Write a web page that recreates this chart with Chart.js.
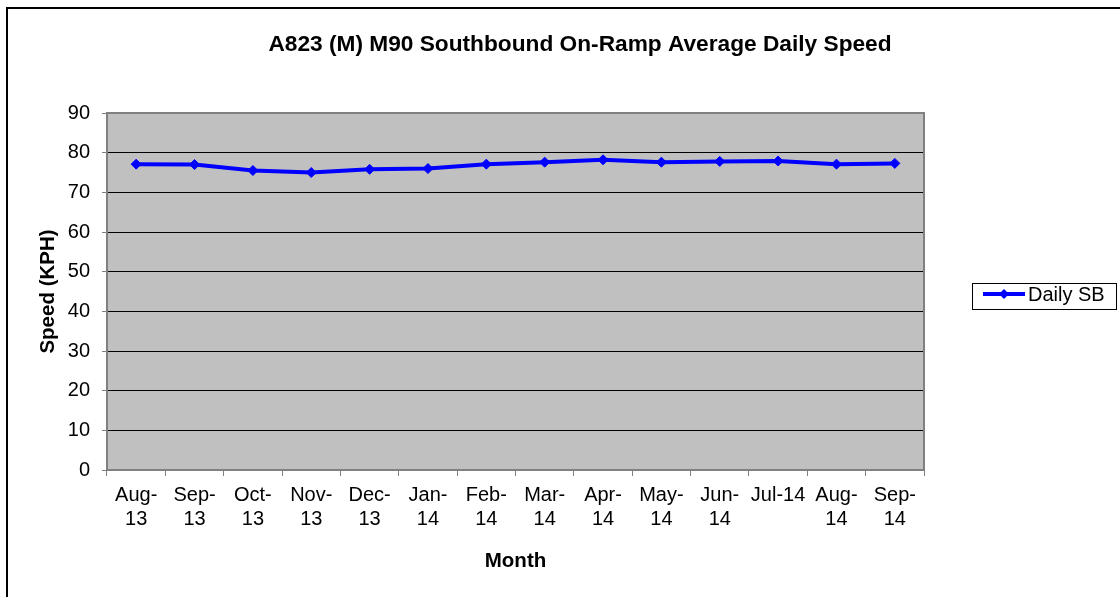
<!DOCTYPE html>
<html>
<head>
<meta charset="utf-8">
<script src="https://cdn.jsdelivr.net/npm/chart.js@4.4.1/dist/chart.umd.min.js"></script>
<style>
	html, body { margin: 0; padding: 0; background: #fff; }
	#wrap { width: 1120px; height: 597px; position: relative; }
</style>
</head>
<body>
<div id="wrap"><canvas id="speedChart" width="1120" height="597"></canvas></div>
<script>
// 데이터
const months = [
	['Aug-', '13'], ['Sep-', '13'], ['Oct-', '13'], ['Nov-', '13'], ['Dec-', '13'],
	['Jan-', '14'], ['Feb-', '14'], ['Mar-', '14'], ['Apr-', '14'], ['May-', '14'],
	['Jun-', '14'], 'Jul-14', ['Aug-', '14'], ['Sep-', '14']
];
const dailySB = [77.1, 77.0, 75.5, 75.0, 75.8, 76.0, 77.1, 77.6, 78.2, 77.6, 77.8, 77.9, 77.1, 77.3];
const yTicks = [0, 10, 20, 30, 40, 50, 60, 70, 80, 90];

const chartTitle = 'A823 (M) M90 Southbound On-Ramp Average Daily Speed';
const seriesName = 'Daily SB';

const FONT = "'Liberation Sans', Arial, sans-serif";

// 배경, 제목, 범례, 테두리 그리기
const decorPlugin = {
	id: 'decor',
	beforeDraw: function(chart) {
		const ctx = chart.ctx;
		const a = chart.chartArea;
		ctx.save();
		ctx.fillStyle = '#fff';
		ctx.fillRect(0, 0, chart.width, chart.height);
		ctx.fillStyle = '#C0C0C0';
		ctx.fillRect(a.left, a.top, a.right - a.left, a.bottom - a.top);
		ctx.restore();
	},
	afterDraw: function(chart) {
		const ctx = chart.ctx;
		const a = chart.chartArea;
		ctx.save();

		// 플롯 영역 테두리 (오른쪽, 위)
		ctx.strokeStyle = '#808080';
		ctx.lineWidth = 2;
		ctx.beginPath();
		ctx.moveTo(a.left, a.top);
		ctx.lineTo(a.right, a.top);
		ctx.lineTo(a.right, a.bottom);
		ctx.stroke();

		// 바깥 테두리
		ctx.strokeStyle = '#000';
		ctx.lineWidth = 2;
		ctx.beginPath();
		ctx.moveTo(7, chart.height);
		ctx.lineTo(7, 8);
		ctx.lineTo(chart.width, 8);
		ctx.stroke();

		// 제목
		ctx.fillStyle = '#000';
		ctx.font = 'bold 22.7px ' + FONT;
		ctx.textAlign = 'center';
		ctx.textBaseline = 'middle';
		ctx.fillText(chartTitle, 580, 45);

		// 범례
		ctx.strokeStyle = '#000';
		ctx.lineWidth = 1;
		ctx.strokeRect(972.5, 283.5, 144, 26);
		ctx.strokeStyle = '#0000FF';
		ctx.lineWidth = 4;
		ctx.beginPath();
		ctx.moveTo(983, 294);
		ctx.lineTo(1025, 294);
		ctx.stroke();
		ctx.fillStyle = '#0000FF';
		ctx.beginPath();
		ctx.moveTo(1004, 289);
		ctx.lineTo(1009, 294);
		ctx.lineTo(1004, 299);
		ctx.lineTo(999, 294);
		ctx.closePath();
		ctx.fill();
		ctx.fillStyle = '#000';
		ctx.font = '20px ' + FONT;
		ctx.textAlign = 'left';
		ctx.fillText(seriesName, 1028, 295);

		ctx.restore();
	}
};

document.addEventListener('DOMContentLoaded', function() {
	const ctx = document.getElementById('speedChart').getContext('2d');
	const chart = new Chart(ctx, {
		type: 'line',
		data: {
			labels: months,
			datasets: [
				{
					label: seriesName,
					data: dailySB,
					borderColor: '#0000FF',
					backgroundColor: '#0000FF',
					borderWidth: 4,
					pointStyle: 'rectRot',
					pointRadius: 5,
					pointBackgroundColor: '#0000FF',
					pointBorderColor: '#0000FF',
					pointBorderWidth: 1,
					tension: 0
				}
			]
		},
		options: {
			responsive: false,
			animation: false,
			layout: {
				padding: { top: 113, right: 196, left: 34, bottom: 19 }
			},
			plugins: {
				legend: { display: false },
				title: { display: false },
				tooltip: { enabled: false }
			},
			scales: {
				x: {
					offset: true,
					grid: {
						offset: true,
						drawOnChartArea: false,
						tickLength: 6,
						tickColor: '#808080',
						tickWidth: 1
					},
					border: { color: '#808080', width: 2 },
					ticks: {
						color: '#000',
						font: { family: FONT, size: 20, lineHeight: 1.2 },
						maxRotation: 0,
						autoSkip: false,
						padding: 7
					},
					title: {
						display: true,
						text: 'Month',
						color: '#000',
						font: { family: FONT, size: 20.5, weight: 'bold' },
						padding: { top: 4, bottom: 4 }
					},
					afterFit: function(scale) { scale.height = 108; }
				},
				y: {
					min: 0,
					max: 90,
					afterBuildTicks: function(scale) {
						scale.ticks = yTicks.map(function(v) { return { value: v }; });
					},
					grid: {
						color: '#000',
						lineWidth: 1,
						tickLength: 5,
						tickColor: '#808080'
					},
					border: { color: '#808080', width: 2 },
					ticks: {
						color: '#000',
						font: { family: FONT, size: 20 },
						padding: 12
					},
					title: {
						display: true,
						text: 'Speed (KPH)',
						color: '#000',
						font: { family: FONT, size: 20.5, weight: 'bold' },
						padding: { top: 2, bottom: 4 }
					},
					afterFit: function(scale) { scale.width = 73; }
				}
			}
		},
		plugins: [decorPlugin]
	});
	console.log(chart.chartArea);
});
</script>
</body>
</html>
